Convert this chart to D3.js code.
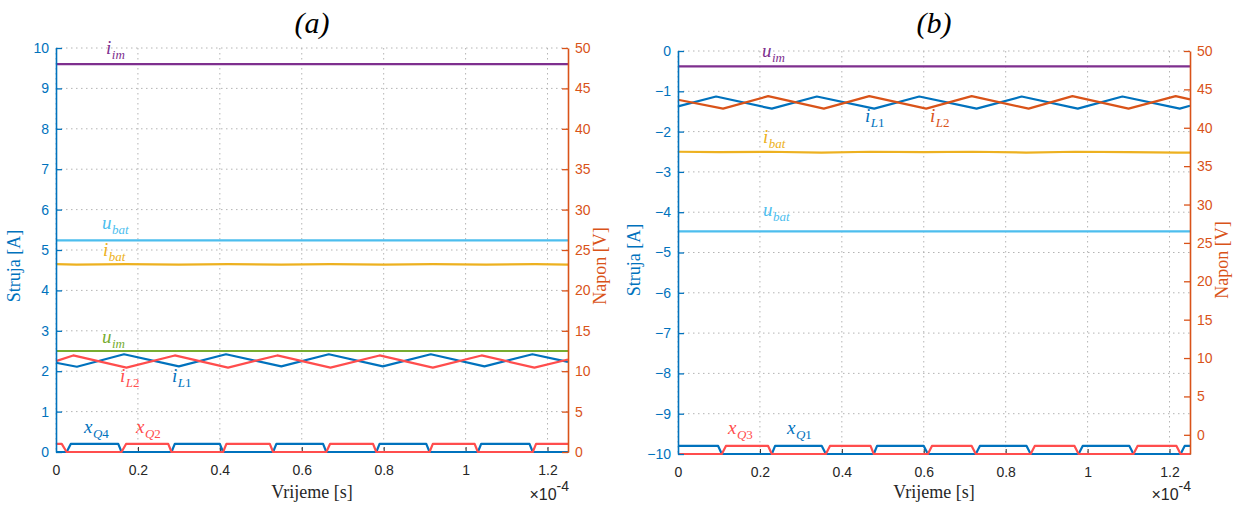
<!DOCTYPE html>
<html><head><meta charset="utf-8">
<script src="https://cdn.jsdelivr.net/npm/d3@7"></script>
<style>body{margin:0;background:#fff}svg{display:block}</style>
</head><body><svg id="c" width="1248" height="506"></svg>
<script>
// ---------- DATA (time in units of 1e-4 s) ----------
const xTicks = [0, 0.2, 0.4, 0.6, 0.8, 1, 1.2];
const leftTicksA = [0,1,2,3,4,5,6,7,8,9,10];
const rightTicksA = [0,5,10,15,20,25,30,35,40,45,50];
const leftTicksB = [-10,-9,-8,-7,-6,-5,-4,-3,-2,-1,0];
const rightTicksB = [0,5,10,15,20,25,30,35,40,45,50];

// Panel (a)
const tA_iL1 = [0, 0.051, 0.166, 0.300, 0.415, 0.550, 0.666, 0.798, 0.915, 1.046, 1.163, 1.25];
const vA_iL1 = [2.21, 2.11, 2.42, 2.12, 2.42, 2.12, 2.42, 2.12, 2.42, 2.12, 2.42, 2.23];
const tA_iL2 = [0, 0.042, 0.172, 0.290, 0.420, 0.540, 0.670, 0.790, 0.920, 1.039, 1.168, 1.25];
const vA_iL2 = [2.25, 2.39, 2.09, 2.39, 2.09, 2.39, 2.09, 2.39, 2.09, 2.39, 2.09, 2.29];
const tA_ibat = [0, 0.05, 0.17, 0.30, 0.42, 0.55, 0.67, 0.80, 0.92, 1.05, 1.17, 1.25];
const vA_ibat = [4.65, 4.64, 4.65, 4.64, 4.65, 4.64, 4.65, 4.64, 4.65, 4.64, 4.65, 4.64];
const tA_const = [0, 1.25];
const vA_iim = [48, 48];      // right axis [V]
const vA_ubat = [26.2, 26.2]; // right axis [V]
const vA_uim = [12.5, 12.5];  // right axis [V]
const tA_xQ4 = [0, 0.026, 0.036, 0.152, 0.160, 0.282, 0.290, 0.400, 0.408, 0.530, 0.538, 0.652, 0.660, 0.782, 0.790, 0.904, 0.912, 1.030, 1.038, 1.156, 1.164, 1.25];
const vA_xQ4 = [0, 0, 0.2, 0.2, 0, 0, 0.2, 0.2, 0, 0, 0.2, 0.2, 0, 0, 0.2, 0.2, 0, 0, 0.2, 0.2, 0, 0];
const tA_xQ2 = [0, 0.014, 0.026, 0.160, 0.171, 0.274, 0.282, 0.408, 0.416, 0.522, 0.530, 0.660, 0.669, 0.774, 0.782, 0.912, 0.920, 1.022, 1.030, 1.164, 1.172, 1.25];
const vA_xQ2 = [0.2, 0.2, 0, 0, 0.2, 0.2, 0, 0, 0.2, 0.2, 0, 0, 0.2, 0.2, 0, 0, 0.2, 0.2, 0, 0, 0.2, 0.2];

// Panel (b)
const tB_iL1 = [0, 0.093, 0.229, 0.339, 0.479, 0.589, 0.729, 0.839, 0.976, 1.085, 1.225, 1.25];
const vB_iL1 = [-1.375, -1.13, -1.43, -1.13, -1.43, -1.13, -1.43, -1.13, -1.43, -1.13, -1.43, -1.36];
const tB_iL2 = [0, 0.110, 0.220, 0.356, 0.467, 0.606, 0.717, 0.856, 0.963, 1.100, 1.215, 1.25];
const vB_iL2 = [-1.21, -1.43, -1.12, -1.43, -1.12, -1.43, -1.12, -1.43, -1.12, -1.43, -1.12, -1.2];
const tB_ibat = [0, 0.10, 0.22, 0.35, 0.47, 0.60, 0.72, 0.85, 0.97, 1.10, 1.22, 1.25];
const vB_ibat = [-2.50, -2.51, -2.50, -2.52, -2.50, -2.51, -2.50, -2.52, -2.50, -2.51, -2.52, -2.52];
const tB_const = [0, 1.25];
const vB_uim = [48, 48];       // right axis [V]
const vB_ubat = [26.5, 26.5];  // right axis [V]
const tB_xQ1 = [0, 0.098, 0.107, 0.229, 0.237, 0.351, 0.361, 0.478, 0.486, 0.600, 0.610, 0.727, 0.737, 0.851, 0.861, 0.978, 0.988, 1.102, 1.112, 1.227, 1.237, 1.25];
const vB_xQ1 = [-9.8, -9.8, -10, -10, -9.8, -9.8, -10, -10, -9.8, -9.8, -10, -10, -9.8, -9.8, -10, -10, -9.8, -9.8, -10, -10, -9.8, -9.8];
const tB_xQ3 = [0, 0.107, 0.117, 0.220, 0.229, 0.361, 0.371, 0.470, 0.478, 0.610, 0.620, 0.717, 0.727, 0.861, 0.871, 0.968, 0.978, 1.112, 1.122, 1.217, 1.227, 1.25];
const vB_xQ3 = [-10, -10, -9.8, -9.8, -10, -10, -9.8, -9.8, -10, -10, -9.8, -9.8, -10, -10, -9.8, -9.8, -10, -10, -9.8, -9.8, -10, -10];

// ---------- STYLE ----------
const C = {blue:"#0072BD", orange:"#D95319", yellow:"#EDB120", purple:"#7E2F8E",
           green:"#77AC30", lblue:"#4DBEEE", red:"#FF4D4D", axis:"#262626", grid:"#b4b4b4"};
const zip = (t, v) => t.map((d, i) => [d, v[i]]);

const svg = d3.select("#c");

function mathLabel(g, x, y, color, main, subs) {
  const t = g.append("text").attr("x", x).attr("y", y).attr("fill", color)
    .style("font-family", "'Liberation Serif','Times New Roman',serif");
  t.append("tspan").text(main).style("font-style", "italic").style("font-size", "19px");
  subs.forEach((s, i) => {
    const sp = t.append("tspan").text(s[0]).style("font-size", "13px")
      .style("font-style", s[1] ? "italic" : "normal");
    if (i === 0) sp.attr("dy", 5).attr("dx", 0.5);
  });
}

function drawPanel(cfg) {
  const g = svg.append("g");
  const x = d3.scaleLinear().domain([0, 1.25]).range([cfg.x0, cfg.x1]);
  const yL = d3.scaleLinear().domain(cfg.left).range([cfg.y1, cfg.y0]);
  const yR = d3.scaleLinear().domain(cfg.right).range([cfg.y1, cfg.y0]);

  // grid
  const grid = g.append("g").attr("stroke", C.grid).attr("stroke-width", 1)
    .attr("stroke-dasharray", "1.5,3.5");
  xTicks.forEach(v => grid.append("line").attr("x1", x(v)).attr("x2", x(v))
    .attr("y1", cfg.y0).attr("y2", cfg.y1));
  cfg.leftTicks.forEach(v => grid.append("line").attr("x1", cfg.x0).attr("x2", cfg.x1)
    .attr("y1", yL(v)).attr("y2", yL(v)));

  // x axis
  const xa = g.append("g").attr("transform", `translate(0,${cfg.y1})`)
    .call(d3.axisBottom(x).tickValues(xTicks).tickSizeInner(-5).tickSizeOuter(0)
      .tickPadding(13).tickFormat(d3.format("~g")));
  xa.selectAll("path,line").attr("stroke", C.axis).attr("stroke-width", 1);
  xa.selectAll("text").attr("fill", C.axis)
    .style("font-family", "'Liberation Sans',Arial,sans-serif").style("font-size", "14px");

  // lines
  const lineL = d3.line().x(d => x(d[0])).y(d => yL(d[1]));
  const lineR = d3.line().x(d => x(d[0])).y(d => yR(d[1]));
  const lg = g.append("g").attr("fill", "none").attr("stroke-width", 2.2)
    .attr("stroke-linejoin", "round");
  cfg.series.forEach(s => {
    lg.append("path").attr("d", (s.axis === "R" ? lineR : lineL)(s.data))
      .attr("stroke", s.color);
  });

  // left axis
  const la = g.append("g").attr("transform", `translate(${cfg.x0},0)`)
    .call(d3.axisLeft(yL).tickValues(cfg.leftTicks).tickSizeInner(-6).tickSizeOuter(0)
      .tickPadding(7).tickFormat(d3.format("~g")));
  la.select("path").attr("stroke", C.blue).attr("stroke-width", 1.6);
  la.selectAll("line").attr("stroke", C.blue).attr("stroke-width", 1.3);
  la.selectAll("text").attr("fill", C.blue)
    .style("font-family", "'Liberation Sans',Arial,sans-serif").style("font-size", "14px");

  // right axis
  const ra = g.append("g").attr("transform", `translate(${cfg.x1},0)`)
    .call(d3.axisRight(yR).tickValues(cfg.rightTicks).tickSizeInner(-6).tickSizeOuter(0)
      .tickPadding(7).tickFormat(d3.format("~g")));
  ra.select("path").attr("stroke", C.orange).attr("stroke-width", 1.6);
  ra.selectAll("line").attr("stroke", C.orange).attr("stroke-width", 1.3);
  ra.selectAll("text").attr("fill", C.orange)
    .style("font-family", "'Liberation Sans',Arial,sans-serif").style("font-size", "14px");

  // axis titles
  const serif = "'Liberation Serif','Times New Roman',serif";
  g.append("text").attr("x", (cfg.x0 + cfg.x1) / 2).attr("y", 498).attr("text-anchor", "middle")
    .attr("fill", C.axis).style("font-family", serif).style("font-size", "18px").text("Vrijeme [s]");
  g.append("text").attr("transform", `translate(${cfg.lx},${cfg.ly}) rotate(-90)`)
    .attr("text-anchor", "middle").attr("fill", C.blue).style("font-family", serif)
    .style("font-size", "18px").text("Struja [A]");
  g.append("text").attr("transform", `translate(${cfg.rx},${cfg.ly}) rotate(-90)`)
    .attr("text-anchor", "middle").attr("fill", C.orange).style("font-family", serif)
    .style("font-size", "18px").text("Napon [V]");
  // title
  g.append("text").attr("x", (cfg.x0 + cfg.x1) / 2).attr("y", 33).attr("text-anchor", "middle")
    .attr("fill", "#000").style("font-family", serif).style("font-style", "italic")
    .style("font-size", "30px").text(cfg.title);
  // exponent
  const ex = g.append("text").attr("x", cfg.x1 + 1).attr("y", 500).attr("text-anchor", "end")
    .attr("fill", C.axis).style("font-family", "'Liberation Sans',Arial,sans-serif")
    .style("font-size", "16px");
  ex.append("tspan").text("×10");
  ex.append("tspan").text("-4").attr("dy", -9).style("font-size", "14px");

  cfg.labels.forEach(l => mathLabel(g, l.x, l.y, l.color, l.main, l.subs));
}

drawPanel({
  title: "(a)", x0: 56, x1: 568, y0: 48, y1: 452, left: [0, 10], right: [0, 50],
  leftTicks: leftTicksA, rightTicks: rightTicksA, lx: 20, rx: 606, ly: 266,
  series: [
    {axis: "R", color: C.purple, data: zip(tA_const, vA_iim)},
    {axis: "R", color: C.lblue, data: zip(tA_const, vA_ubat)},
    {axis: "L", color: C.yellow, data: zip(tA_ibat, vA_ibat)},
    {axis: "R", color: C.green, data: zip(tA_const, vA_uim)},
    {axis: "L", color: C.blue, data: zip(tA_iL1, vA_iL1)},
    {axis: "L", color: C.red, data: zip(tA_iL2, vA_iL2)},
    {axis: "L", color: C.blue, data: zip(tA_xQ4, vA_xQ4)},
    {axis: "L", color: C.red, data: zip(tA_xQ2, vA_xQ2)}
  ],
  labels: [
    {x: 106, y: 54, color: C.purple, main: "i", subs: [["im", true]]},
    {x: 102, y: 229, color: C.lblue, main: "u", subs: [["bat", true]]},
    {x: 103, y: 256, color: C.yellow, main: "i", subs: [["bat", true]]},
    {x: 102, y: 343, color: C.green, main: "u", subs: [["im", true]]},
    {x: 120, y: 382, color: C.red, main: "i", subs: [["L", true], ["2", false]]},
    {x: 172, y: 382, color: C.blue, main: "i", subs: [["L", true], ["1", false]]},
    {x: 84, y: 433, color: C.blue, main: "x", subs: [["Q", true], ["4", false]]},
    {x: 136, y: 433, color: C.red, main: "x", subs: [["Q", true], ["2", false]]}
  ]
});

drawPanel({
  title: "(b)", x0: 678, x1: 1190, y0: 51, y1: 454, left: [-10, 0], right: [-2.5, 50],
  leftTicks: leftTicksB, rightTicks: rightTicksB, lx: 640, rx: 1228, ly: 260,
  series: [
    {axis: "R", color: C.purple, data: zip(tB_const, vB_uim)},
    {axis: "R", color: C.lblue, data: zip(tB_const, vB_ubat)},
    {axis: "L", color: C.yellow, data: zip(tB_ibat, vB_ibat)},
    {axis: "L", color: C.blue, data: zip(tB_iL1, vB_iL1)},
    {axis: "L", color: C.orange, data: zip(tB_iL2, vB_iL2)},
    {axis: "L", color: C.blue, data: zip(tB_xQ1, vB_xQ1)},
    {axis: "L", color: C.red, data: zip(tB_xQ3, vB_xQ3)}
  ],
  labels: [
    {x: 762, y: 57, color: C.purple, main: "u", subs: [["im", true]]},
    {x: 865, y: 122, color: C.blue, main: "i", subs: [["L", true], ["1", false]]},
    {x: 930, y: 122, color: C.orange, main: "i", subs: [["L", true], ["2", false]]},
    {x: 763, y: 143, color: C.yellow, main: "i", subs: [["bat", true]]},
    {x: 763, y: 216, color: C.lblue, main: "u", subs: [["bat", true]]},
    {x: 728, y: 434, color: C.red, main: "x", subs: [["Q", true], ["3", false]]},
    {x: 787, y: 434, color: C.blue, main: "x", subs: [["Q", true], ["1", false]]}
  ]
});
</script></body></html>
